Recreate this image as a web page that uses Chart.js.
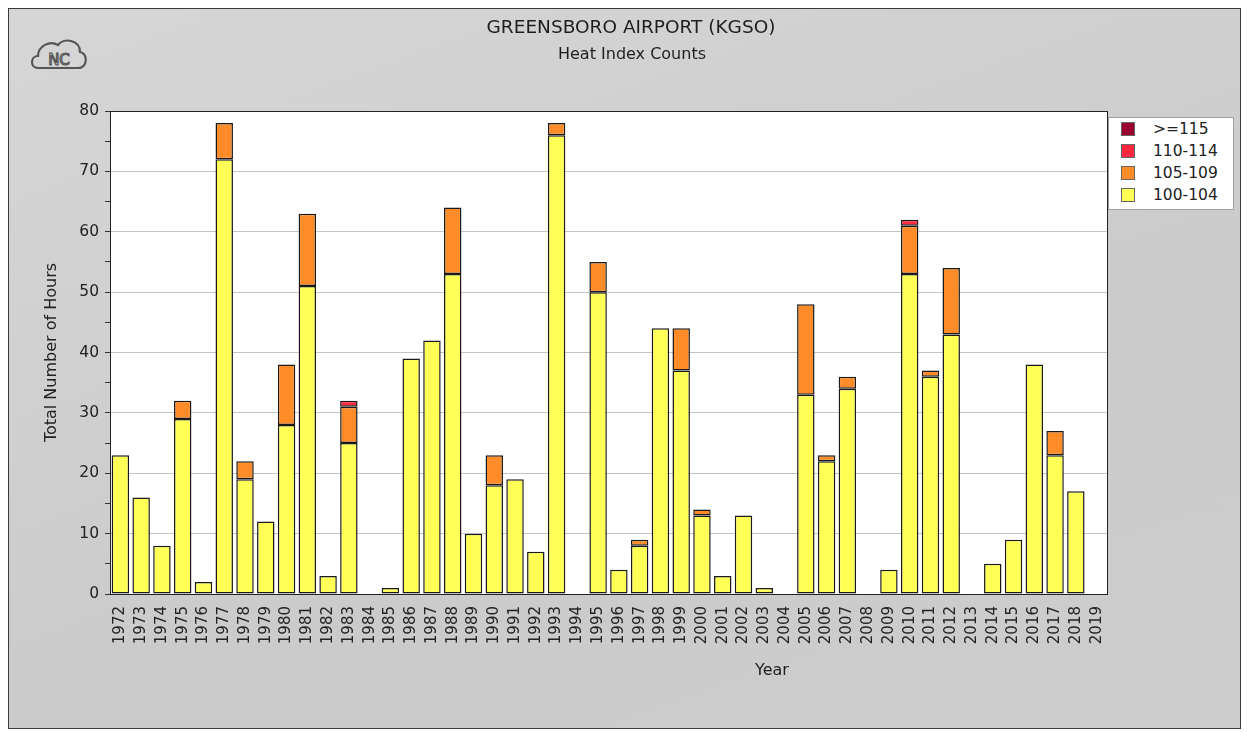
<!DOCTYPE html>
<html>
<head>
<meta charset="utf-8">
<script src="https://cdn.jsdelivr.net/npm/chart.js@4/dist/chart.umd.min.js"></script>
<style>
  body { margin: 0; background: #fff; font-family: "DejaVu Sans", sans-serif; }
  #frame { position: absolute; left: 8px; top: 8px; width: 1231px; height: 719px;
           background: linear-gradient(160deg, #d6d6d6, #cbcbcb 60%, #cdcdcd);
           border: 1px solid #3a3a3a; }
  #wrap { position: absolute; left: 0; top: 0; width: 1247px; height: 732px; }
  #legend { position: absolute; left: 1108px; top: 117px; width: 124px;
            background: #fff; border: 1px solid #a0a0a0; padding: 0 0 3px 0; }
  .row { height: 22px; line-height: 22px; font-size: 15.5px; color: #222; position: relative; }
  .sw { position: absolute; left: 12px; top: 4px; width: 12px; height: 12px; border: 1px solid #666; }
  .lb { position: absolute; left: 44px; }
  #logo { position: absolute; left: 30px; top: 34px; }
</style>
</head>
<body>
<div id="frame"></div>
<svg id="logo" width="58" height="40" viewBox="0 0 58 40">
  <path d="M8 34 C0 34 0 22 8 22 C8 12 20 6 28 11 C34 3 50 6 50 18 C58 19 58 34 48 34 Z"
        fill="none" stroke="#555" stroke-width="2.2"/>
  <text x="29" y="31" text-anchor="middle" font-size="15" font-family="DejaVu Sans" fill="none" stroke="#555" stroke-width="1.2">NC</text>
</svg>
<div id="wrap"><canvas id="chart1" width="1247" height="732"></canvas></div>
<div id="legend"></div>
<script>
'use strict'

var years = [];
for (var y = 1972; y <= 2019; y++) { years.push(String(y)); }

// hours per year in each heat index band
var h100 = [23,16,8,29,2,72,19,12,28,51,3,25,0,1,39,42,53,10,18,19,7,76,0,50,4,8,44,37,13,3,13,1,0,33,22,34,0,4,53,36,43,0,5,9,38,23,17,0];
var h105 = [0,0,0,3,0,6,3,0,10,12,0,6,0,0,0,0,11,0,5,0,0,2,0,5,0,1,0,7,1,0,0,0,0,15,1,2,0,0,8,1,11,0,0,0,0,4,0,0];
var h110 = [0,0,0,0,0,0,0,0,0,0,0,1,0,0,0,0,0,0,0,0,0,0,0,0,0,0,0,0,0,0,0,0,0,0,0,0,0,0,1,0,0,0,0,0,0,0,0,0];
var h115 = [0,0,0,0,0,0,0,0,0,0,0,0,0,0,0,0,0,0,0,0,0,0,0,0,0,0,0,0,0,0,0,0,0,0,0,0,0,0,0,0,0,0,0,0,0,0,0,0];

var bandNames = ['100-104', '105-109', '110-114', '>=115'];
var bandColors = ['#ffff55', '#ff8c28', '#ff2a40', '#990030'];
var yTicks = [0, 10, 20, 30, 40, 50, 60, 70, 80];

/////////////////////////////////////////////////////////////////
function makeSet(i, data) {
  return {
    label: bandNames[i],
    data: data,
    backgroundColor: bandColors[i],
    borderColor: '#1a1a1a',
    borderWidth: 1.5,
    borderSkipped: false,
    categoryPercentage: 1,
    barPercentage: 0.84
  };
}

var decor = {
  id: 'decor',
  beforeDraw: function (chart) {
    var ctx = chart.ctx, a = chart.chartArea;
    ctx.save();
    ctx.fillStyle = '#fff';
    ctx.fillRect(a.left, a.top, a.right - a.left, a.bottom - a.top);
    ctx.fillStyle = '#1e1e1e';
    ctx.textAlign = 'center';
    ctx.font = '18.5px "DejaVu Sans"';
    ctx.fillText('GREENSBORO AIRPORT (KGSO)', 631, 33);
    ctx.font = '16px "DejaVu Sans"';
    ctx.fillText('Heat Index Counts', 632, 59);
    ctx.fillText('Year', a.left + (a.right - a.left) * 0.664, 675);
    ctx.restore();
  },
  afterDraw: function (chart) {
    var ctx = chart.ctx, a = chart.chartArea;
    ctx.save();
    ctx.strokeStyle = '#222';
    ctx.lineWidth = 1;
    ctx.strokeRect(a.left + 0.5, a.top + 0.5, a.right - a.left, a.bottom - a.top);
    ctx.restore();
  }
};

function makeChart1() {
  var ctx = document.getElementById('chart1').getContext('2d');
  return new Chart(ctx, {
    type: 'bar',
    data: {
      labels: years,
      datasets: [makeSet(0, h100), makeSet(1, h105), makeSet(2, h110), makeSet(3, h115)]
    },
    options: {
      responsive: false,
      animation: false,
      layout: { padding: { top: 111, right: 140, left: 40, bottom: 0 } },
      plugins: { legend: { display: false }, tooltip: { enabled: false } },
      scales: {
        x: {
          stacked: true,
          afterFit: function (s) { s.height = 138; },
          grid: { display: false },
          border: { color: '#222' },
          ticks: { minRotation: 90, maxRotation: 90, autoSkip: false, color: '#222',
                   font: { family: 'DejaVu Sans', size: 15 }, padding: 4 }
        },
        y: {
          stacked: true,
          min: 0, max: 80,
          afterFit: function (s) { s.width = 70; },
          afterBuildTicks: function (s) {
            var t = [];
            for (var v = 0; v <= 80; v += 5) { t.push({ value: v }); }
            s.ticks = t;
          },
          border: { color: '#222' },
          grid: {
            color: function (c) { return (c.tick && c.tick.value % 10 === 0) ? '#c4c4c4' : 'rgba(0,0,0,0)'; },
            tickColor: '#333',
            tickLength: 5
          },
          ticks: {
            color: '#222',
            font: { family: 'DejaVu Sans', size: 15.5 },
            padding: 6,
            callback: function (v) { return yTicks.indexOf(v) >= 0 ? String(v) : ''; }
          },
          title: { display: true, text: 'Total Number of Hours', color: '#222',
                   font: { family: 'DejaVu Sans', size: 16 }, padding: 2 }
        }
      }
    },
    plugins: [decor]
  });
}

function makeLegend() {
  var box = document.getElementById('legend');
  for (var i = bandNames.length - 1; i >= 0; i--) {
    box.innerHTML += '<div class="row"><span class="sw" style="background:' + bandColors[i] +
      '"></span><span class="lb">' + bandNames[i] + '</span></div>';
  }
}

makeChart1();
makeLegend();
</script>
</body>
</html>
